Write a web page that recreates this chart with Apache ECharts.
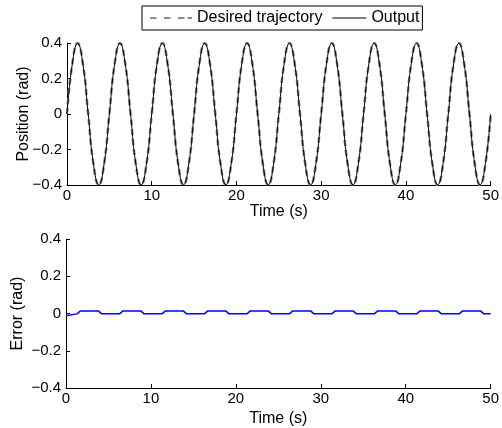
<!DOCTYPE html>
<html>
<head>
<meta charset="utf-8">
<script src="https://cdn.jsdelivr.net/npm/echarts@6/dist/echarts.min.js"></script>
<style>
  html, body { margin: 0; padding: 0; background: #fff; }
  #chart { width: 502px; height: 428px; }
</style>
</head>
<body>
<div id="chart"></div>
<script>
// time samples (s), one every 0.625 s
const time = [
  0, 0.625, 1.25, 1.875, 2.5, 3.125, 3.75, 4.375, 5, 5.625, 6.25, 6.875, 7.5, 8.125, 8.75, 9.375,
  10, 10.625, 11.25, 11.875, 12.5, 13.125, 13.75, 14.375, 15, 15.625, 16.25, 16.875, 17.5, 18.125, 18.75, 19.375,
  20, 20.625, 21.25, 21.875, 22.5, 23.125, 23.75, 24.375, 25, 25.625, 26.25, 26.875, 27.5, 28.125, 28.75, 29.375,
  30, 30.625, 31.25, 31.875, 32.5, 33.125, 33.75, 34.375, 35, 35.625, 36.25, 36.875, 37.5, 38.125, 38.75, 39.375,
  40, 40.625, 41.25, 41.875, 42.5, 43.125, 43.75, 44.375, 45, 45.625, 46.25, 46.875, 47.5, 48.125, 48.75, 49.375,
  50
];
const desired = [
  0, 0.283, 0.4, 0.283, 0, -0.283, -0.4, -0.283, 0, 0.283, 0.4, 0.283, 0, -0.283, -0.4, -0.283,
  0, 0.283, 0.4, 0.283, 0, -0.283, -0.4, -0.283, 0, 0.283, 0.4, 0.283, 0, -0.283, -0.4, -0.283,
  0, 0.283, 0.4, 0.283, 0, -0.283, -0.4, -0.283, 0, 0.283, 0.4, 0.283, 0, -0.283, -0.4, -0.283,
  0, 0.283, 0.4, 0.283, 0, -0.283, -0.4, -0.283, 0, 0.283, 0.4, 0.283, 0, -0.283, -0.4, -0.283,
  0, 0.283, 0.4, 0.283, 0, -0.283, -0.4, -0.283, 0, 0.283, 0.4, 0.283, 0, -0.283, -0.4, -0.283,
  0
];
const output = [
  0, 0.282, 0.398, 0.281, 0, -0.282, -0.399, -0.282, 0, 0.282, 0.398, 0.281, 0, -0.282, -0.399, -0.282,
  0, 0.282, 0.398, 0.281, 0, -0.282, -0.399, -0.282, 0, 0.282, 0.398, 0.281, 0, -0.282, -0.399, -0.282,
  0, 0.282, 0.398, 0.281, 0, -0.282, -0.399, -0.282, 0, 0.282, 0.398, 0.281, 0, -0.282, -0.399, -0.282,
  0, 0.282, 0.398, 0.281, 0, -0.282, -0.399, -0.282, 0, 0.282, 0.398, 0.281, 0, -0.282, -0.399, -0.282,
  0, 0.282, 0.398, 0.281, 0, -0.282, -0.399, -0.282, 0, 0.282, 0.398, 0.281, 0, -0.282, -0.399, -0.282,
  0
];
// tracking error: switches between two small levels every half period
const errTime = [
  0, 0.05, 0.2, 1.3, 1.7, 3.8, 4.2, 6.3, 6.7, 8.8, 9.2, 11.3, 11.7, 13.8, 14.2, 16.3, 16.7, 18.8, 19.2,
  21.3, 21.7, 23.8, 24.2, 26.3, 26.7, 28.8, 29.2, 31.3, 31.7, 33.8, 34.2, 36.3, 36.7, 38.8, 39.2,
  41.3, 41.7, 43.8, 44.2, 46.3, 46.7, 48.8, 49.2, 50
];
const errValue = [
  -0.012, -0.003, -0.002, -0.002, 0.014, 0.014, -0.002, -0.002, 0.014, 0.014, -0.002, -0.002, 0.014, 0.014, -0.002, -0.002, 0.014, 0.014, -0.002,
  -0.002, 0.014, 0.014, -0.002, -0.002, 0.014, 0.014, -0.002, -0.002, 0.014, 0.014, -0.002, -0.002, 0.014, 0.014, -0.002,
  -0.002, 0.014, 0.014, -0.002, -0.002, 0.014, 0.014, -0.002, -0.002
];

const font = "'Liberation Sans', Arial, sans-serif";
const fsName = 16;
const fsTick = 15;
const fmt = (v) => (v === 0 ? "0" : (v < 0 ? "\u2212" : "") + Math.abs(v).toFixed(1));

// legend icons: thin filled bars, tiny corner dots fix the icon box
const dashIcon = "path://M0,0h0.01v0.01h-0.01z M0,0.4h6.5v2.2h-6.5z M14,0.4h6.5v2.2h-6.5z M28,0.4h6.5v2.2h-6.5z M37.5,0.4h4.5v2.2h-4.5z M41.99,2.99h0.01v0.01h-0.01z";
const solidIcon = "path://M0,0h0.01v0.01h-0.01z M8,1h34v1h-34z M41.99,2.99h0.01v0.01h-0.01z";

const xAxisBase = (gridIndex, gap) => ({
  type: "value",
  gridIndex: gridIndex,
  min: 0,
  max: 50,
  interval: 10,
  name: "Time (s)",
  nameLocation: "middle",
  nameGap: gap,
  nameMoveOverlap: false,
  nameTextStyle: { color: "#000", fontSize: fsName, fontFamily: font },
  axisLine: { show: true, onZero: false, lineStyle: { color: "#000", width: 1 } },
  axisTick: { show: true, inside: true, length: 4, lineStyle: { color: "#000" } },
  axisLabel: { color: "#000", fontSize: fsTick, fontFamily: font, margin: 3 },
  splitLine: { show: false },
});
const yAxisBase = (gridIndex, name, gap) => ({
  type: "value",
  gridIndex: gridIndex,
  min: -0.4,
  max: 0.4,
  interval: 0.2,
  name: name,
  nameLocation: "middle",
  nameGap: gap,
  nameMoveOverlap: false,
  nameTextStyle: { color: "#000", fontSize: fsName, fontFamily: font },
  axisLine: { show: true, onZero: false, lineStyle: { color: "#000", width: 1 } },
  axisTick: { show: true, inside: true, length: 4, lineStyle: { color: "#000" } },
  axisLabel: { color: "#000", fontSize: fsTick, fontFamily: font, margin: 5, formatter: fmt },
  splitLine: { show: false },
});

const chart = echarts.init(document.getElementById("chart"), null, { renderer: "canvas" });
chart.setOption({
  animation: false,
  backgroundColor: "#fff",
  legend: {
    top: 6,
    left: 142,
    padding: [4, 3, 4, 8],
    borderColor: "#000",
    borderWidth: 1,
    itemWidth: 42,
    itemHeight: 3,
    itemGap: 2,
    textStyle: { color: "#000", fontSize: fsName, fontFamily: font },
    data: [
      { name: "Desired trajectory", icon: dashIcon, itemStyle: { color: "#8c8c8c" } },
      { name: "Output", icon: solidIcon, itemStyle: { color: "#000" } },
    ],
  },
  grid: [
    { left: 67, top: 43, right: 9, height: 142 },
    { left: 66, top: 239, right: 10, height: 149 },
  ],
  xAxis: [xAxisBase(0, 19), xAxisBase(1, 23)],
  yAxis: [yAxisBase(0, "Position (rad)", 35), yAxisBase(1, "Error (rad)", 40)],
  series: [
    {
      name: "Desired trajectory",
      type: "line",
      xAxisIndex: 0,
      yAxisIndex: 0,
      data: time.map((t, i) => [t, desired[i]]),
      smooth: true,
      symbol: "none",
      lineStyle: { color: "#808080", width: 2.5, type: [6, 4] },
      itemStyle: { color: "#808080" },
    },
    {
      name: "Output",
      type: "line",
      xAxisIndex: 0,
      yAxisIndex: 0,
      data: time.map((t, i) => [t, output[i]]),
      smooth: true,
      symbol: "none",
      lineStyle: { color: "#000", width: 1 },
      itemStyle: { color: "#000" },
    },
    {
      name: "Error",
      type: "line",
      xAxisIndex: 1,
      yAxisIndex: 1,
      data: errTime.map((t, i) => [t, errValue[i]]),
      symbol: "none",
      lineStyle: { color: "#0000ff", width: 1.5 },
      itemStyle: { color: "#0000ff" },
    },
  ],
});
</script>
</body>
</html>
